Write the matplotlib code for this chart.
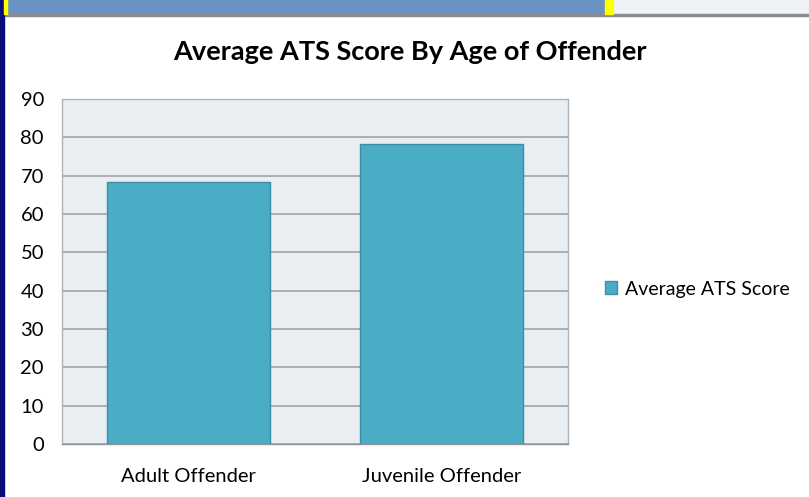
import matplotlib.pyplot as plt
from matplotlib.patches import Rectangle

categories = ["Adult Offender", "Juvenile Offender"]
scores = [68.4, 78.3]
yticks = list(range(0, 100, 10))
series_name = "Average ATS Score"
title = "Average ATS Score By Age of Offender"

W, H = 809, 497
plt.rcParams["font.family"] = ["Lato", "DejaVu Sans"]

fig = plt.figure(figsize=(W / 100, H / 100), dpi=100)
fig.patch.set_facecolor("white")

# window chrome around the chart (top band, left navy strip)
def px_rect(x, y, w, h, color):
    fig.patches.append(Rectangle((x / W, 1 - (y + h) / H), w / W, h / H,
                                 transform=fig.transFigure, color=color, zorder=0))

px_rect(0, 0, 809, 14, "#6a93c4")
px_rect(613, 0, 196, 14, "#eef1f5")
px_rect(0, 14, 809, 2, "#8c8c8c")
px_rect(0, 0, 4, 497, "#0a0a78")
px_rect(4, 0, 3, 14, "#ffff00")
px_rect(605, 0, 8, 14, "#ffff00")

# plot area in pixel coords
x0, x1, ytop, ybot = 62, 568, 99, 444
ax = fig.add_axes([x0 / W, 1 - ybot / H, (x1 - x0) / W, (ybot - ytop) / H])
ax.set_facecolor("#e8eef2")

x = range(len(categories))
ax.bar(x, scores, width=0.645, color="#4bacc6", edgecolor="#3a8fa6",
       linewidth=1, zorder=3, label=series_name)

ax.set_ylim(0, 90)
ax.set_xlim(-0.5, 1.5)
ax.set_yticks(yticks)
ax.yaxis.grid(True, color="#a0a4a8", linewidth=1.2, zorder=0)
ax.set_axisbelow(True)
ax.set_xticks(list(x))
ax.set_xticklabels(categories, fontsize=14.5)
ax.tick_params(axis="y", labelsize=14.5, length=0, pad=13)
ax.tick_params(axis="x", length=0, pad=17)
for s in ax.spines.values():
    s.set_color("#b0b4b8")
    s.set_linewidth(1)
ax.spines["bottom"].set_color("#909498")

fig.text(410 / W, 1 - 52 / H, title, ha="center", va="center",
         fontsize=19.5, fontweight="bold")

ax.legend(loc="center left", bbox_to_anchor=(587 / W, 1 - 289 / H),
          bbox_transform=fig.transFigure, frameon=False, fontsize=14,
          handlelength=0.65, handleheight=0.65, handletextpad=0.4)

fig.savefig("out.png", dpi=100)
